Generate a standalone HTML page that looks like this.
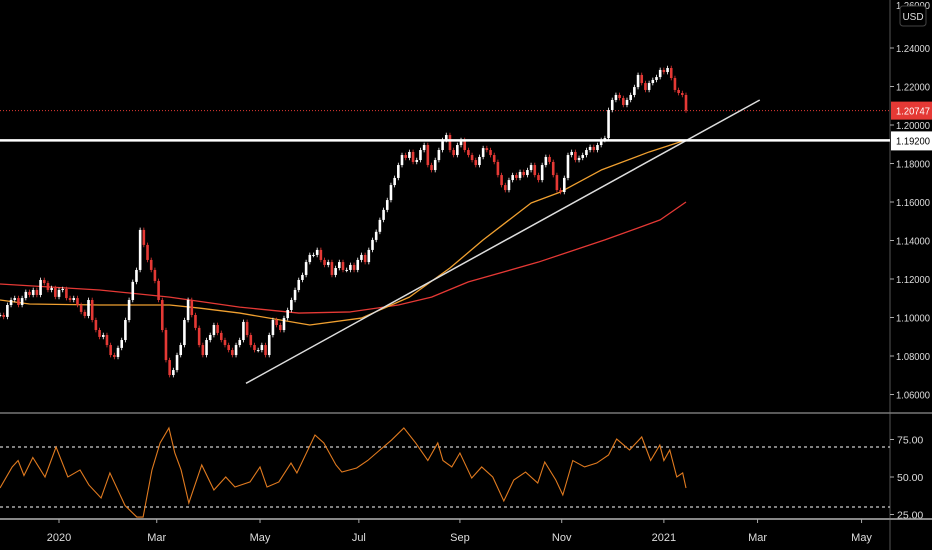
<!DOCTYPE html>
<html><head><meta charset="utf-8"><style>
html,body{margin:0;padding:0;background:#000;}
svg{display:block;font-family:"Liberation Sans",sans-serif;}
</style></head><body>
<svg id="c" width="932" height="550" viewBox="0 0 932 550">
<rect x="0" y="0" width="932" height="550" fill="#000"/>
</svg>
<script>
const closes=[1.1013,1.1003,1.1065,1.1091,1.1101,1.1065,1.1101,1.1133,1.1117,1.1143,
1.1117,1.1195,1.1179,1.1143,1.1153,1.1107,1.1143,1.1148,1.1101,1.1091,
1.1101,1.1065,1.1029,1.1008,1.1091,1.0987,1.0935,1.0899,1.0909,1.0857,
1.0805,1.0795,1.0842,1.0883,1.0987,1.1091,1.1185,1.1247,1.1455,1.1377,
1.1299,1.1247,1.1190,1.1091,1.0935,1.0779,1.0701,1.0727,1.0805,1.0857,
1.0987,1.1091,1.1013,1.0946,1.0857,1.0805,1.0883,1.0909,1.0961,1.0920,
1.0883,1.0857,1.0831,1.0805,1.0857,1.0883,1.0977,1.0909,1.0857,1.0831,
1.0831,1.0857,1.0805,1.0909,1.0987,1.0961,1.0935,1.0997,1.1039,1.1091,
1.1143,1.1195,1.1221,1.1288,1.1325,1.1325,1.1351,1.1299,1.1273,1.1288,
1.1221,1.1257,1.1288,1.1247,1.1247,1.1273,1.1247,1.1299,1.1325,1.1288,
1.1351,1.1403,1.1445,1.1507,1.1559,1.1610,1.1688,1.1725,1.1792,1.1844,
1.1829,1.1860,1.1808,1.1818,1.1870,1.1896,1.1792,1.1766,1.1818,1.1870,
1.1922,1.1948,1.1870,1.1844,1.1896,1.1922,1.1870,1.1844,1.1818,1.1792,
1.1834,1.1880,1.1870,1.1844,1.1808,1.1740,1.1688,1.1662,1.1714,1.1740,
1.1725,1.1756,1.1740,1.1766,1.1792,1.1740,1.1714,1.1792,1.1834,1.1808,
1.1740,1.1662,1.1652,1.1725,1.1844,1.1860,1.1818,1.1829,1.1844,1.1870,
1.1886,1.1870,1.1896,1.1922,1.1932,1.2078,1.2130,1.2156,1.2140,1.2104,
1.2130,1.2156,1.2197,1.2260,1.2218,1.2182,1.2218,1.2234,1.2249,1.2286,
1.2275,1.2296,1.2244,1.2182,1.2166,1.2156,1.2075];
const maFastIdx=[0,8,27,46,54,65,84,98,111,122,131,144,152,163,176,186];
const maFastVal=[1.1091,1.1070,1.1065,1.1065,1.1049,1.1023,1.0961,1.0997,1.1106,1.1257,1.1403,1.1595,1.1652,1.1766,1.1860,1.1922];
const maSlowIdx=[0,27,46,65,81,95,108,117,127,146,164,179,186];
const maSlowVal=[1.1174,1.1143,1.1106,1.1054,1.1023,1.1029,1.1065,1.1106,1.1185,1.1288,1.1403,1.1507,1.1600];
const trendIdx=[66.7,206];
const trendVal=[1.0658,1.2130];
const rsiIdx=[0,3.3,4.9,6.5,8.9,12.2,15.2,18.4,21.7,24.1,27.4,29.8,33.9,37.1,38.8,41.2,43.4,45.8,47.4,49.1,51.2,54.7,58,61.2,63.7,67.8,70.5,72.4,75.6,78.9,80.5,85.4,87.8,91.1,92.7,96.7,99.7,103,106.2,109.5,112.7,116,118.7,120.1,122.5,124.7,127.9,130.6,133.6,136.6,139.3,142.5,145.8,147.7,150.7,152.6,155.3,158.5,161.8,165,167.2,170.7,174,176.4,178.9,180,181.6,183.5,185.1,186];
const rsiVal=[42.7,56.7,61,51,63,50,70,50,54.7,44.7,36,52.7,31,23.3,23.3,54.7,72.7,82.7,66,54.7,32.7,58,41.3,50,43.3,46.7,56.7,43.3,46.7,59.3,52.7,78,72.7,58,53.3,56,61,68,74.7,82.7,72.7,61,72.7,61,56.7,66,49.3,56.7,50,34,48,53.3,46,60,48,38,61,56.7,59.3,64.7,75.3,68,76.7,61,71.3,61,68,50,52.7,42.7];
const priceTicks=[1.24,1.22,1.20,1.18,1.16,1.14,1.12,1.10,1.08,1.06];
const rsiTicks=[75,50,25];
const timeLabels=["2020","Mar","May","Jul","Sep","Nov","2021","Mar","May"];
const timeIdx=[16,42.5,70.5,97.3,124.7,152.3,180,205.4,233.6];
const lastPrice=1.20747, hLevel=1.192;

const NS="http://www.w3.org/2000/svg";
const svg=document.getElementById('c');
function mk(t,a,p){const e=document.createElementNS(NS,t);for(const k in a)e.setAttribute(k,a[k]);(p||svg).appendChild(e);return e;}
const step=686/(closes.length-1);
const X=i=>i*step;
const Y=p=>48+(1.24-p)*1925;
const RY=v=>477-(v-50)*1.5;

let e;
e=mk('line',{x1:890,y1:0,x2:890,y2:550,stroke:'#555','stroke-width':1});

e=mk('line',{x1:0,y1:413,x2:932,y2:413,stroke:'#777','stroke-width':1.5});

e=mk('line',{x1:0,y1:519,x2:932,y2:519,stroke:'#888','stroke-width':2});


priceTicks.forEach(p=>{
 const t=mk('line',{x1:890,y1:Y(p),x2:894,y2:Y(p),stroke:'#aaa'});
 
 const l=mk('text',{x:896,y:Y(p)+4,fill:'#ddd','font-size':10.5,textLength:34,lengthAdjust:'spacingAndGlyphs'});
 
 l.textContent=p.toFixed(5);
});
e=mk('text',{x:896,y:9,fill:'#ddd','font-size':10.5,textLength:34,lengthAdjust:'spacingAndGlyphs'});e.textContent='1.26000';

e=mk('rect',{x:900,y:6,width:26,height:20,rx:3,fill:'#000',stroke:'#444'});

e=mk('text',{x:913,y:20,fill:'#ddd','font-size':10,'text-anchor':'middle'});e.textContent='USD';


[70,30].forEach(v=>{
 const d=mk('line',{x1:0,y1:RY(v),x2:890,y2:RY(v),stroke:'#ccc','stroke-width':1.3,'stroke-dasharray':'3,3'});
 
});
rsiTicks.forEach(v=>{
 const t=mk('line',{x1:890,y1:RY(v),x2:894,y2:RY(v),stroke:'#aaa'});
 
 const l=mk('text',{x:897,y:RY(v)+4,fill:'#ddd','font-size':10.5});
 
 l.textContent=v.toFixed(2);
});
timeLabels.forEach((s,i)=>{
 const t=mk('line',{x1:X(timeIdx[i]),y1:519,x2:X(timeIdx[i]),y2:523,stroke:'#aaa'});
 
 const l=mk('text',{x:X(timeIdx[i]),y:541,fill:'#ddd','font-size':11,'text-anchor':'middle'});
 
 l.textContent=s;
});

e=mk('line',{x1:0,y1:Y(lastPrice),x2:890,y2:Y(lastPrice),stroke:'#e53935','stroke-width':1,'stroke-dasharray':'1,2'});


function poly(ix,vals,col,name){
 const p=mk('polyline',{points:ix.map((v,i)=>X(v)+','+Y(vals[i])).join(' '),fill:'none',stroke:col,'stroke-width':1.3,'stroke-linejoin':'round'});
 
}
poly(maSlowIdx,maSlowVal,'#e53935','ma-200-line');
poly(maFastIdx,maFastVal,'#f0a030','ma-100-line');

const g=mk('g',{});

closes.forEach((c,i)=>{
 const o=i?closes[i-1]:c;
 const up=c>=o,col=up?'#fff':'#e53935';
 const hi=Math.max(o,c)+0.0012,lo=Math.min(o,c)-0.0012;
 const w=mk('line',{x1:X(i),y1:Y(hi),x2:X(i),y2:Y(lo),stroke:col,'stroke-width':0.8},g);
 
 const b=mk('rect',{x:X(i)-1.3,y:Math.min(Y(o),Y(c)),width:2.6,height:Math.max(1,Math.abs(Y(o)-Y(c))),fill:col},g);
 
});

e=mk('line',{x1:X(trendIdx[0]),y1:Y(trendVal[0]),x2:X(trendIdx[1]),y2:Y(trendVal[1]),stroke:'#ddd','stroke-width':1.5});

e=mk('line',{x1:0,y1:Y(hLevel),x2:890,y2:Y(hLevel),stroke:'#fff','stroke-width':2.5});


e=mk('polyline',{points:rsiIdx.map((v,i)=>X(v)+','+RY(rsiVal[i])).join(' '),fill:'none',stroke:'#e07a1f','stroke-width':1.1});


e=mk('rect',{x:891,y:Y(lastPrice)-9,width:41,height:18,fill:'#e53935'});

e=mk('text',{x:896,y:Y(lastPrice)+4,fill:'#fff','font-size':10.5,textLength:34,lengthAdjust:'spacingAndGlyphs'});e.textContent=lastPrice.toFixed(5);

e=mk('rect',{x:891,y:Y(hLevel)-9,width:41,height:19,fill:'#fff'});

e=mk('text',{x:896,y:Y(hLevel)+4,fill:'#000','font-size':10.5,textLength:34,lengthAdjust:'spacingAndGlyphs'});e.textContent=hLevel.toFixed(5);

</script>
</body></html>
